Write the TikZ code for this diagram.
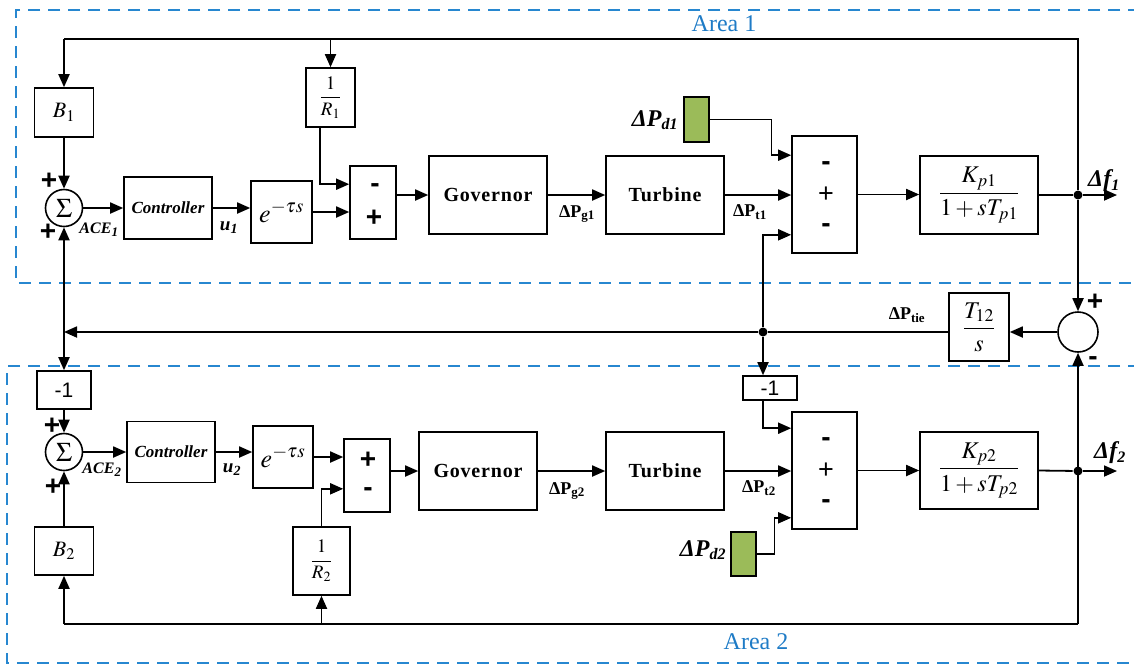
\documentclass[tikz,border=0pt]{standalone}
\usepackage{amsmath}
\usepackage{mathptmx}
\usepackage[no-math]{fontspec}
\setmainfont{Liberation Serif}
\newfontfamily\arialfont{Liberation Sans}
\usetikzlibrary{arrows.meta,calc}
\definecolor{areablue}{HTML}{2787D0}
\definecolor{areatext}{HTML}{1E7BC6}
\definecolor{dgreen}{HTML}{9BBB59}
\newcommand{\fs}[1]{\fontsize{#1}{#1}\selectfont}
\begin{document}
\begin{tikzpicture}[x=1pt,y=-1pt,
  every path/.style={line width=1.8pt},
  blk/.style={draw,line width=1.6pt,inner sep=0pt,anchor=center},
  sumc/.style={draw,circle,line width=1.6pt,inner sep=0pt},
  dist/.style={draw,line width=1.8pt,fill=dgreen,inner sep=0pt,minimum width=25pt,minimum height=45pt},
  arr/.style={-{Triangle[length=13pt,width=11pt]}},
  dot/.style={circle,fill=black,inner sep=0pt,minimum size=9pt},
  area/.style={draw=areablue,line width=1.8pt,dash pattern=on 12pt off 8pt},
  arealbl/.style={text=areatext,font=\fs{24}},
  sgn/.style={font=\arialfont\bfseries\fs{28},inner sep=0pt},
  thinsgn/.style={font=\arialfont\fs{27},inner sep=0pt},
  lbl/.style={inner sep=0pt},
  bigtxt/.style={font=\bfseries\fs{20}\addfontfeature{LetterSpace=4}},
  ctl/.style={font=\bfseries\itshape\fs{17}},
]
\useasboundingbox (0,0) rectangle (1134,665);

% ---------- area frames ----------
\draw[area] (1140,10) -- (16,10) -- (16,283) -- (1140,283);
\draw[area] (1140,366) -- (7,366) -- (7,663) -- (1140,663);
\node[arealbl] (A1) at (724,24) {Area 1};
\node[arealbl] (A2) at (756,642) {Area 2};

% ---------- Area 1 blocks ----------
\node[blk,minimum width=59pt,minimum height=49pt] (B1) at (64,112.5) {\fs{22}$B_1$};
\node[blk,minimum width=49pt,minimum height=59pt] (R1) at (330.5,97.5) {\fs{19}$\dfrac{1}{R_1}$};
\node[sumc,minimum size=37pt] (S1) at (64,208) {\fs{27}$\Sigma$};
\node[blk,minimum width=88pt,minimum height=62pt,ctl] (C1) at (168,208) {Controller};
\node[blk,minimum width=61pt,minimum height=62pt] (E1) at (281.5,212) {\fs{26}$e^{-\tau s}$};
\node[blk,minimum width=46pt,minimum height=73pt] (M1) at (373,202.5) {};
\node[blk,minimum width=118pt,minimum height=78pt,bigtxt] (G1) at (488,195) {Governor};
\node[blk,minimum width=118pt,minimum height=78pt,bigtxt] (T1) at (665,195) {Turbine};
\node[dist] (D1) at (696.5,119.5) {};
\node[blk,minimum width=65pt,minimum height=117pt] (P1) at (824.5,194.5) {};
\node[blk,minimum width=118pt,minimum height=78pt] (K1) at (979,195) {\fs{24}$\dfrac{K_{p1}}{1+sT_{p1}}$};
\node[dot] (J1) at (1078,195) {};
\coordinate (F1) at (1117,195);

% signs area 1
\node[sgn] (s1a) at (49,181) {+};
\node[sgn] (s1b) at (48,232) {+};
\node[sgn] (m1a) at (375,188) {-};
\node[sgn] (m1b) at (374,218) {+};
\node[sgn] (p1a) at (826,166) {-};
\node[thinsgn] (p1b) at (826,195) {+};
\node[sgn] (p1c) at (826,228) {-};

% labels area 1
\node[lbl,font=\bfseries\itshape\fs{16}] (ace1) at (99,230) {ACE\textsubscript{\fs{13}1}};
\node[lbl,font=\bfseries\itshape\fs{19}] (u1) at (229,228) {u\textsubscript{\fs{14}1}};
\node[lbl,font=\bfseries\fs{18}] (pg1) at (577,214) {ΔP\textsubscript{\fs{13}g1}};
\node[lbl,font=\bfseries\fs{18}] (pt1) at (750,212) {ΔP\textsubscript{\fs{13}t1}};
\node[lbl,font=\bfseries\itshape\fs{24}] (pd1) at (655,120) {ΔP\textsubscript{\fs{16}d1}};
\node[lbl,font=\bfseries\itshape\fs{24}] (f1) at (1104,181) {Δf\textsubscript{\fs{16}1}};

% top feedback
\coordinate (tr1) at (1078,39);
\coordinate (tl1) at (64,39);
\coordinate (tm1) at (330.5,39);
\draw (J1) -- (tr1) -- (tl1);
\draw[arr] (tl1) -- (B1.north);
\draw[arr] (tm1) -- (R1.north);
\draw[arr] (B1.south) -- (S1.north);
\draw[arr] (S1.east) -- (C1.west);
\draw[arr] (C1.east) -- (C1.east -| E1.west);
\draw[arr] (E1.east) -- (E1.east -| M1.west);
\draw[arr] ($(R1.south west)+(15,0)$) |- ($(M1.north west)+(0,19)$);
\draw[arr] (M1.east |- G1.west) -- (G1.west);
\draw[arr] (G1.east) -- (T1.west);
\draw[arr] (T1.east) -- (T1.east -| P1.west);
\draw[arr] (D1.east) -- ++(61.5,0) |- ($(P1.north west)+(0,20)$);
\draw[arr] (P1.east) -- (P1.east -| K1.west);
\draw (K1.east) -- (J1);
\draw[arr] (J1) -- (F1);

% ---------- tie line ----------
\node[sumc,minimum size=40pt] (TS) at (1078,332) {};
\node[blk,minimum width=60pt,minimum height=68pt] (TB) at (979,327) {\fs{24}$\dfrac{T_{12}}{s}$};
\node[dot] (J3) at (763,332) {};
\coordinate (tl) at (64,332);
\node[sgn] (ts1) at (1095,302) {+};
\node[sgn] (ts2) at (1093,361) {-};
\node[lbl,font=\bfseries\fs{18}] (ptie) at (907,315) {ΔP\textsubscript{\fs{13}tie}};
\draw[arr] (J1) -- (TS.north);
\draw[arr] (TS.west) -- (TS.west -| TB.east);
\draw (TB.west |- TS.west) -- (J3);
\draw[arr] (J3) -- (tl);
\draw[arr] (J3) |- ($(P1.south west)+(0,-19)$);

% ---------- Area 2 blocks ----------
\node[blk,minimum width=54pt,minimum height=38pt] (N1) at (64,390) {\arialfont\fs{21}-1};
\node[sumc,minimum size=37pt] (S2) at (64,452) {\fs{27}$\Sigma$};
\node[blk,minimum width=59pt,minimum height=48pt] (B2) at (64,551) {\fs{22}$B_2$};
\node[blk,minimum width=88pt,minimum height=61pt,ctl] (C2) at (171,452) {Controller};
\node[blk,minimum width=60pt,minimum height=62pt] (E2) at (283,457) {\fs{26}$e^{-\tau s}$};
\node[blk,minimum width=46pt,minimum height=73pt] (M2) at (367,475.5) {};
\node[blk,minimum width=57pt,minimum height=68pt] (R2) at (321.5,561) {\fs{19}$\dfrac{1}{R_2}$};
\node[blk,minimum width=118pt,minimum height=78pt,bigtxt] (G2) at (478,471) {Governor};
\node[blk,minimum width=118pt,minimum height=78pt,bigtxt] (T2) at (665,471) {Turbine};
\node[blk,minimum width=54pt,minimum height=24pt] (N2) at (770,388) {\arialfont\fs{21}-1};
\node[blk,minimum width=65pt,minimum height=117pt] (P2) at (824.5,470.5) {};
\node[dist,minimum height=44pt] (D2) at (743.5,554) {};
\node[blk,minimum width=118pt,minimum height=77pt] (K2) at (979,470.5) {\fs{24}$\dfrac{K_{p2}}{1+sT_{p2}}$};
\node[dot] (J2) at (1078,471) {};
\coordinate (F2) at (1117,471);

% signs area 2
\node[sgn] (s2a) at (52,426) {+};
\node[sgn] (s2b) at (53,487) {+};
\node[sgn] (m2a) at (368,460) {+};
\node[sgn] (m2b) at (368,492) {-};
\node[sgn] (p2a) at (826,442) {-};
\node[thinsgn] (p2b) at (826,471) {+};
\node[sgn] (p2c) at (826,504) {-};

% labels area 2
\node[lbl,font=\bfseries\itshape\fs{16}] (ace2) at (102,470) {ACE\textsubscript{\fs{13}2}};
\node[lbl,font=\bfseries\itshape\fs{19}] (u2) at (232,470) {u\textsubscript{\fs{14}2}};
\node[lbl,font=\bfseries\fs{18}] (pg2) at (567,491) {ΔP\textsubscript{\fs{13}g2}};
\node[lbl,font=\bfseries\fs{18}] (pt2) at (759,488) {ΔP\textsubscript{\fs{13}t2}};
\node[lbl,font=\bfseries\itshape\fs{24}] (pd2) at (703,550) {ΔP\textsubscript{\fs{16}d2}};
\node[lbl,font=\bfseries\itshape\fs{24}] (f2) at (1110,453) {Δf\textsubscript{\fs{16}2}};

% connectors area 2
\draw[arr] (tl) -- (S1.south);
\draw[arr] (tl) -- (N1.north);
\draw[arr] (N1.south) -- (S2.north);
\draw[arr] (B2.north) -- (S2.south);
\draw[arr] (S2.east) -- (C2.west);
\draw[arr] (C2.east) -- (C2.east -| E2.west);
\draw[arr] (E2.east) -- (E2.east -| M2.west);
\draw[arr] (R2.north) |- ($(M2.south west)+(0,-24)$);
\draw[arr] (M2.east |- G2.west) -- (G2.west);
\draw[arr] (G2.east) -- (T2.west);
\draw[arr] (T2.east) -- (T2.east -| P2.west);
\draw[arr] (J3) -- (J3 |- N2.north);
\draw[arr] (J3 |- N2.south) |- ($(P2.north west)+(0,17)$);
\draw[arr] (D2.east) -- ++(17.5,0) |- ($(P2.south west)+(0,-12)$);
\draw[arr] (P2.east) -- (P2.east -| K2.west);
\draw (K2.east) -- (J2);
\draw[arr] (J2) -- (F2);
\coordinate (br) at (1078,624);
\coordinate (bl) at (64,624);
\coordinate (bm) at (321.5,624);
\draw[arr] (br) -- (TS.south);
\draw (br) -- (bl);
\draw[arr] (bl) -- (B2.south);
\draw[arr] (bm) -- (R2.south);
\end{tikzpicture}
\end{document}
